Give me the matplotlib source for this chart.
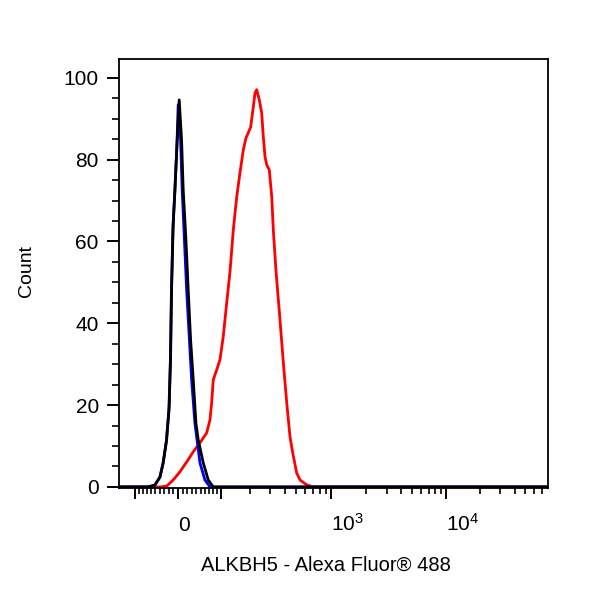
import numpy as np
import matplotlib
matplotlib.use("Agg")
import matplotlib.pyplot as plt
from matplotlib.ticker import FixedLocator, MultipleLocator

plt.rcParams["font.family"] = ["Liberation Sans", "DejaVu Sans"]
plt.rcParams["mathtext.fontset"] = "custom"
plt.rcParams["mathtext.rm"] = "Liberation Sans"
plt.rcParams["mathtext.it"] = "Liberation Sans:italic"

# histogram values (x = intensity, y = % of max)
black_x = [-170, -66.7, -50.7, -39.2, -31.9, -24.4, -18.8, -15.7, -13.6, -10.1, -6.4,
           -1.5, 2.8, 7.9, 11.4, 17.3, 22.2, 27.5, 33.3, 39.3, 44.5, 56.1, 68.1, 80.6, 80000]
black_y = [0, 0, 0.5, 2.4, 5.9, 11.5, 19.6, 31.8, 48.2, 64.5, 72.6,
           84.8, 94.6, 84.8, 72.6, 60.4, 48.2, 35.9, 26.2, 15.6, 11.5, 5.9, 1.7, 0, 0]

blue_x = [-170, -67, -50.7, -39.2, -32.5, -24.9, -19.4, -16.2, -14.1, -10.8, -6.4,
          -2.1, 0.6, 5.8, 9.2, 18.8, 29.7, 37.0, 48.4, 60.1, 72.3, 80000]
blue_y = [0, 0, 0.4, 2.4, 5.6, 11.2, 18.8, 31.0, 46.9, 62.8, 72.6,
          83.6, 93.4, 84.8, 72.6, 48.2, 26.2, 15.6, 5.9, 1.7, 0, 0]

red_x = [-170, -39.2, -24.4, -10.1, 4.3, 18.8, 33.3, 48.4, 64.2, 72.3, 76.5, 80.6,
         89.5, 98.4, 107.5, 117.6, 127.7, 138.2, 149.6, 161.1, 173.4, 183.6, 193.1,
         203.0, 214.4, 222.1, 229.8, 242.6, 254.5, 262.8, 272.2, 281.6, 296.4, 311.1,
         320.9, 338.7, 366.1, 391.0, 417.7, 445.5, 469.8, 507.3, 541.8, 617.5, 700, 80000]
red_y = [0, 0, 0.2, 1.7, 3.7, 6.1, 8.6, 10.8, 13.2, 16.4, 20.5, 26.2,
         28.6, 31.1, 36.7, 45.0, 52.6, 62.8, 70.9, 76.8, 82.4, 85.3, 86.6,
         88.0, 92.9, 96.3, 97.1, 94.6, 91.4, 85.6, 80.7, 78.7, 77.5, 70.9,
         62.8, 52.6, 40.8, 30.3, 20.5, 12.2, 8.3, 3.4, 1.7, 0.5, 0, 0]

major_ticks = [-100, 0, 100, 1000, 10000]
major_labels = ["", "0", "", r"$\mathregular{10^3}$", r"$\mathregular{10^4}$"]
minor_ticks = ([-v for v in range(10, 100, 10)] + list(range(10, 100, 10))
               + list(range(200, 1000, 100)) + list(range(2000, 10000, 1000))
               + list(range(20000, 80000, 10000)))

# biexponential (logicle-like) display
K = 42.16
P = 1.5


def biex(u):
    u = np.asarray(u, dtype=float)
    a = np.abs(u)
    return np.sign(u) * K * (10 ** a - P ** 2 * 10 ** (-a / P) + P ** 2 - 1)


_u = np.linspace(-1.5, 4.5, 30001)
_x = biex(_u)


def forward(x):
    return np.interp(x, _x, _u)


def inverse(u):
    return biex(u)


fig = plt.figure(figsize=(6, 6), dpi=100)
ax = fig.add_axes([0.1983, 0.1867, 0.715, 0.715])
ax.set_xscale("function", functions=(forward, inverse))

ax.plot(red_x, red_y, color="#ff0000", lw=2.0)
ax.plot(blue_x, blue_y, color="#0000ff", lw=2.0)
ax.plot(black_x, black_y, color="black", lw=2.0)

ax.set_xlim(-150, 79000)
ax.set_ylim(-0.25, 104.6)

ax.xaxis.set_major_locator(FixedLocator(major_ticks))
ax.xaxis.set_minor_locator(FixedLocator(minor_ticks))
ax.set_xticks(major_ticks, major_labels, ha="left", va="baseline")
ax.yaxis.set_major_locator(MultipleLocator(20))
ax.yaxis.set_minor_locator(MultipleLocator(5))

ax.tick_params(axis="x", which="major", direction="out", length=8, width=1.4,
               pad=23, labelsize=15)
ax.tick_params(axis="x", which="minor", direction="out", length=4.3, width=1.2)
ax.tick_params(axis="y", which="major", direction="out", length=9, width=1.4,
               pad=5.5, labelsize=15)
ax.tick_params(axis="y", which="minor", direction="out", length=5, width=1.2)

for sp in ax.spines.values():
    sp.set_linewidth(1.3)

ax.set_ylabel("Count", fontsize=14)
ax.yaxis.set_label_coords(-0.195, 0.505)
ax.set_xlabel("ALKBH5 - Alexa Fluor® 488", fontsize=14.5)
ax.xaxis.set_label_coords(0.4825, -0.159)

fig.savefig("out.png", dpi=100)
